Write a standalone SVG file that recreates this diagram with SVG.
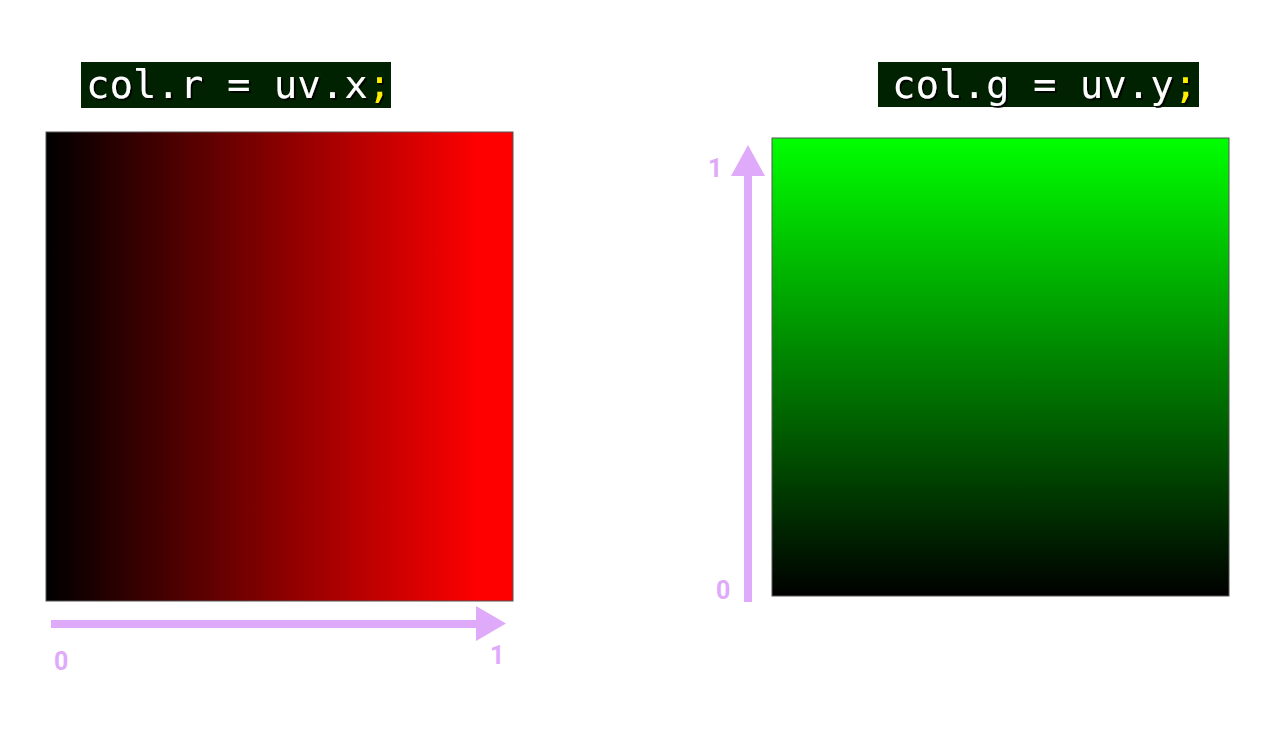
<svg xmlns="http://www.w3.org/2000/svg" width="1280" height="732" viewBox="0 0 1280 732">
<defs>
<linearGradient id="gr" x1="0" y1="0" x2="1" y2="0"><stop offset="0" stop-color="#000"/><stop offset="0.93" stop-color="#f00"/><stop offset="1" stop-color="#f00"/></linearGradient>
<linearGradient id="gg" x1="0" y1="0" x2="0" y2="1"><stop offset="0" stop-color="#0f0"/><stop offset="1" stop-color="#000"/></linearGradient>
<filter id="sh" x="-5%" y="-20%" width="110%" height="140%"><feDropShadow dx="2" dy="2" stdDeviation="0.5" flood-color="#000" flood-opacity="0.8"/></filter>
<style>
.code{font-family:"DejaVu Sans Mono",monospace;font-size:39px;fill:#fff}
.semi{fill:#ffee00}
.bg{fill:#002200}
.ax{fill:#dfaafa}
.lbl{font-family:Roboto,"Liberation Sans",Arial,sans-serif;font-weight:bold;font-size:25px;fill:#dfaafa}
</style>
</defs>
<rect width="1280" height="732" fill="#fff"/>
<g id="label-r">
<rect class="bg" x="81" y="62" width="310" height="46"/>
<text class="code" x="86" y="98" filter="url(#sh)">col.r = uv.x<tspan class="semi">;</tspan></text>
</g>
<g id="label-g">
<rect class="bg" x="878" y="62" width="321" height="45"/>
<text class="code" x="892" y="98" filter="url(#sh)">col.g = uv.y<tspan class="semi">;</tspan></text>
</g>
<g id="red-square">
<rect x="46" y="132" width="467" height="469" fill="url(#gr)" stroke="#555" stroke-width="1"/>
</g>
<g id="green-square">
<rect x="772" y="138" width="457" height="458" fill="url(#gg)" stroke="#555" stroke-width="1"/>
</g>
<g id="connectors">
<rect class="ax" x="51" y="620" width="428" height="8"/>
<polygon class="ax" points="476,606 506,623.5 476,641"/>
<rect class="ax" x="744" y="172" width="8" height="430"/>
<polygon class="ax" points="731,176 748,145 765,176"/>
</g>
<g id="axis-labels">
<text class="lbl" x="54" y="670">0</text>
<text class="lbl" x="490" y="664">1</text>
<text class="lbl" x="708" y="177">1</text>
<text class="lbl" x="716" y="599">0</text>
</g>
</svg>
